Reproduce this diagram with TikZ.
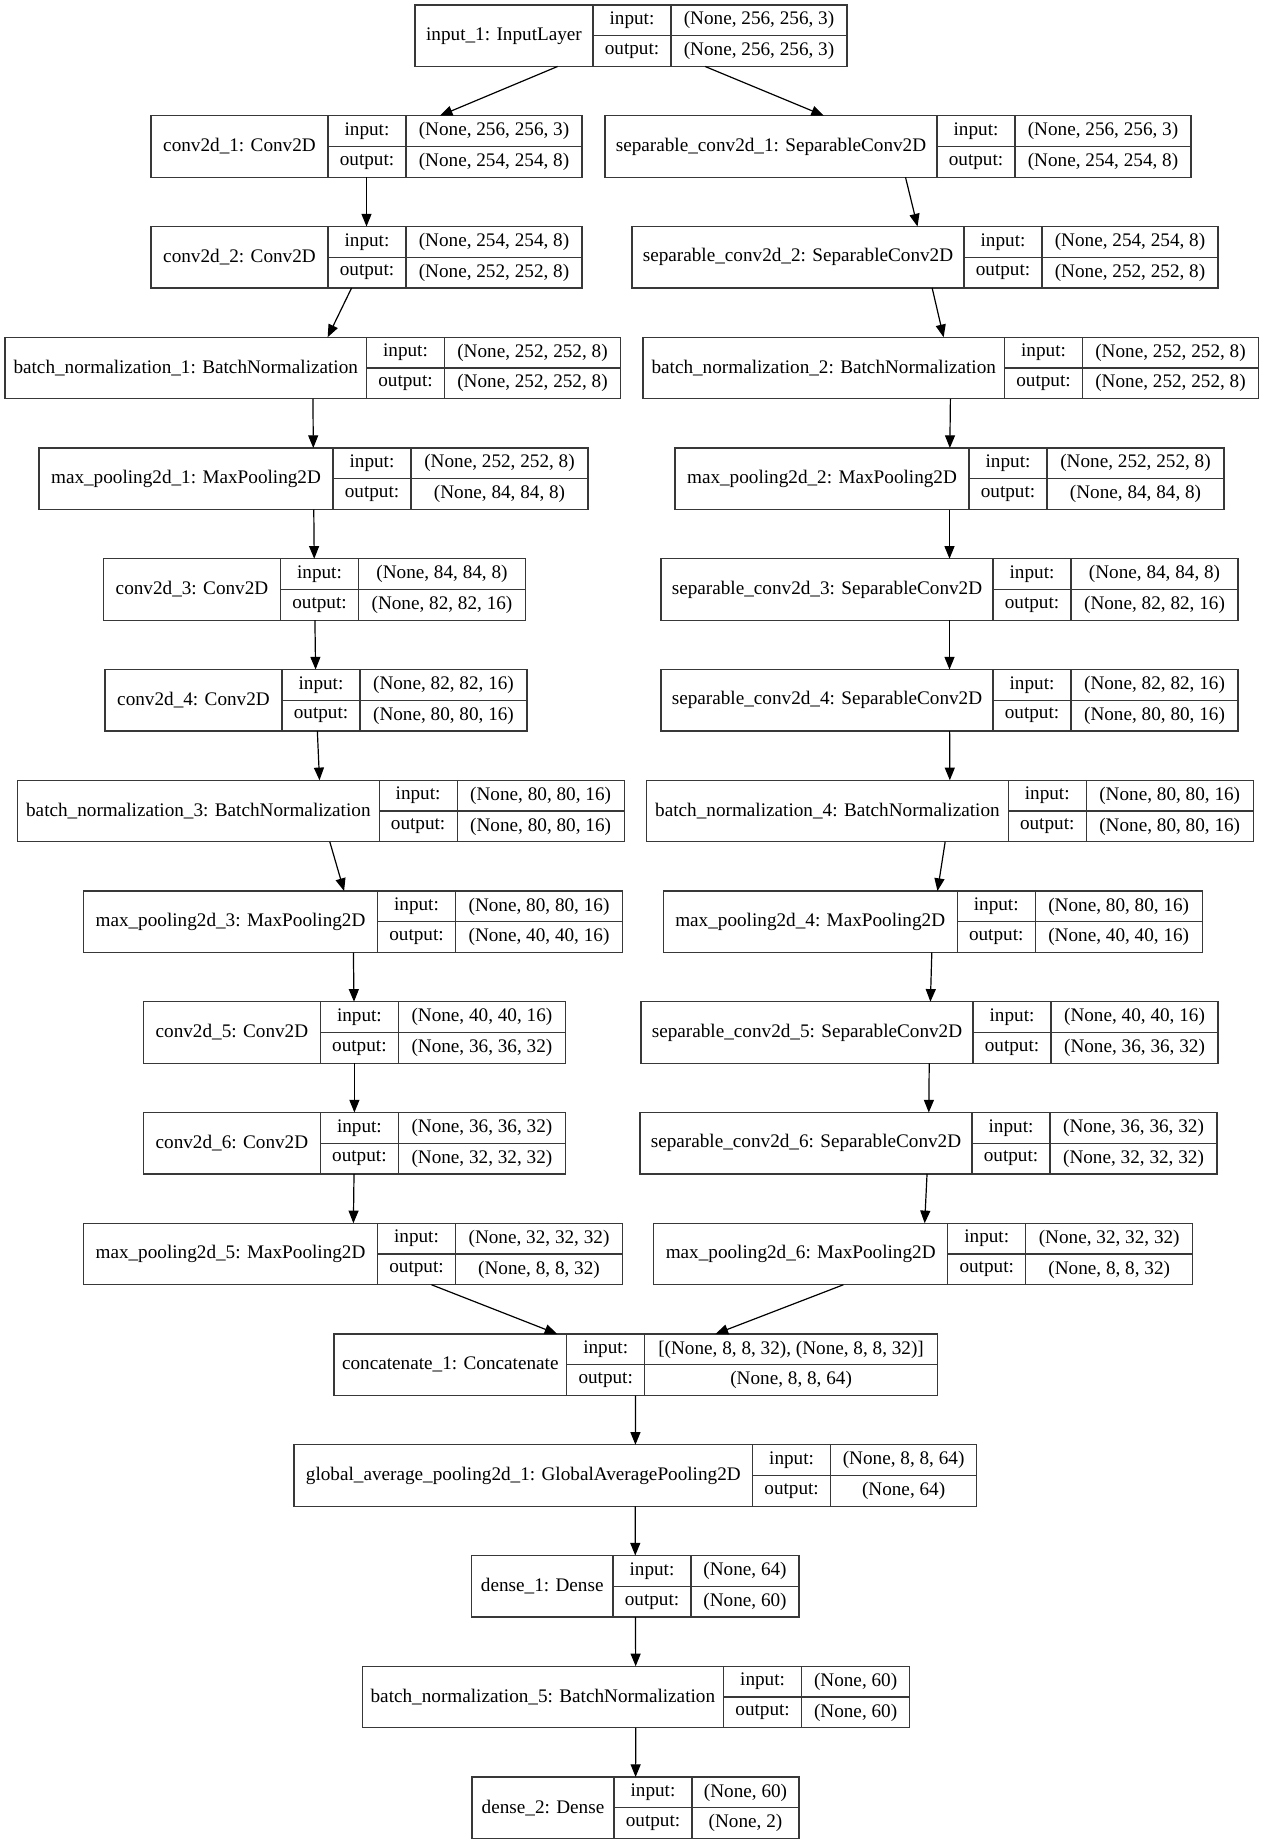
\documentclass[tikz,border=0pt]{standalone}
\usepackage{fontspec}
\setmainfont{Liberation Serif}
\usetikzlibrary{arrows.meta}
\definecolor{boxline}{gray}{0.22}
\tikzset{
  layerbox/.style={draw=boxline, line width=0.9pt, inner sep=0pt, outer sep=0pt, rectangle},
  cell/.style={inner sep=0pt, font=\fontsize{14.4pt}{17pt}\selectfont},
  divider/.style={draw=boxline, line width=0.9pt},
  edge/.style={draw=black, line width=0.9pt, -{Triangle[length=9.5pt,width=7.5pt]}},
}
% #1 name, #2 left, #3 label width, #4 value width, #5 row, #6 label, #7 input, #8 output
\newcommand{\klayer}[8]{%
  \pgfmathsetmacro{\kxa}{#2}%
  \pgfmathsetmacro{\kxb}{#2+#3}%
  \pgfmathsetmacro{\kxc}{#2+#3+78}%
  \pgfmathsetmacro{\kxd}{#2+#3+78+#4}%
  \pgfmathsetmacro{\kya}{5+110.75*#5}%
  \pgfmathsetmacro{\kyb}{\kya+30.75}%
  \pgfmathsetmacro{\kyc}{\kya+61.5}%
  \pgfmathsetmacro{\kW}{(#3+78+#4)*0.75}%
  \pgfmathsetmacro{\kH}{61.5*0.75}%
  \node[layerbox, minimum width=\kW pt, minimum height=\kH pt] (#1) at ({(\kxa+\kxd)/2},\kyb) {};
  \draw[divider] (\kxb,\kya) -- (\kxb,\kyc) (\kxc,\kya) -- (\kxc,\kyc) (\kxb,\kyb) -- (\kxd,\kyb);
  \node[cell] (#1-label) at ({(\kxa+\kxb)/2},\kyb) {#6};
  \node[cell] (#1-in) at ({(\kxb+\kxc)/2},{(\kya+\kyb)/2}) {input:};
  \node[cell] (#1-out) at ({(\kxb+\kxc)/2},{(\kyb+\kyc)/2}) {output:};
  \node[cell] (#1-inv) at ({(\kxc+\kxd)/2},{(\kya+\kyb)/2}) {#7};
  \node[cell] (#1-outv) at ({(\kxc+\kxd)/2},{(\kyb+\kyc)/2}) {#8};
}
\begin{document}
\begin{tikzpicture}[x=0.75pt,y=-0.75pt]
\fill[white] (0,0) rectangle (1264,1844);
\useasboundingbox (0,0) rectangle (1264,1844);

\klayer{in1}{415}{178}{176}{0}{input\_1: InputLayer}{(None, 256, 256, 3)}{(None, 256, 256, 3)}
\klayer{c1}{151}{177}{176}{1}{conv2d\_1: Conv2D}{(None, 256, 256, 3)}{(None, 254, 254, 8)}
\klayer{s1}{605}{332}{176}{1}{separable\_conv2d\_1: SeparableConv2D}{(None, 256, 256, 3)}{(None, 254, 254, 8)}
\klayer{c2}{151}{177}{176}{2}{conv2d\_2: Conv2D}{(None, 254, 254, 8)}{(None, 252, 252, 8)}
\klayer{s2}{632}{332}{176}{2}{separable\_conv2d\_2: SeparableConv2D}{(None, 254, 254, 8)}{(None, 252, 252, 8)}
\klayer{bn1}{5}{361.5}{176}{3}{batch\_normalization\_1: BatchNormalization}{(None, 252, 252, 8)}{(None, 252, 252, 8)}
\klayer{bn2}{643}{361.5}{176}{3}{batch\_normalization\_2: BatchNormalization}{(None, 252, 252, 8)}{(None, 252, 252, 8)}
\klayer{mp1}{39}{294}{177}{4}{max\_pooling2d\_1: MaxPooling2D}{(None, 252, 252, 8)}{(None, 84, 84, 8)}
\klayer{mp2}{675}{294}{177}{4}{max\_pooling2d\_2: MaxPooling2D}{(None, 252, 252, 8)}{(None, 84, 84, 8)}
\klayer{c3}{103.5}{177}{167}{5}{conv2d\_3: Conv2D}{(None, 84, 84, 8)}{(None, 82, 82, 16)}
\klayer{s3}{661}{332}{167}{5}{separable\_conv2d\_3: SeparableConv2D}{(None, 84, 84, 8)}{(None, 82, 82, 16)}
\klayer{c4}{105}{177}{167}{6}{conv2d\_4: Conv2D}{(None, 82, 82, 16)}{(None, 80, 80, 16)}
\klayer{s4}{661}{332}{167}{6}{separable\_conv2d\_4: SeparableConv2D}{(None, 82, 82, 16)}{(None, 80, 80, 16)}
\klayer{bn3}{17.6}{361.5}{167}{7}{batch\_normalization\_3: BatchNormalization}{(None, 80, 80, 16)}{(None, 80, 80, 16)}
\klayer{bn4}{646.7}{361.5}{167}{7}{batch\_normalization\_4: BatchNormalization}{(None, 80, 80, 16)}{(None, 80, 80, 16)}
\klayer{mp3}{83.5}{294}{167}{8}{max\_pooling2d\_3: MaxPooling2D}{(None, 80, 80, 16)}{(None, 40, 40, 16)}
\klayer{mp4}{663.2}{294}{167}{8}{max\_pooling2d\_4: MaxPooling2D}{(None, 80, 80, 16)}{(None, 40, 40, 16)}
\klayer{c5}{143.4}{177}{167}{9}{conv2d\_5: Conv2D}{(None, 40, 40, 16)}{(None, 36, 36, 32)}
\klayer{s5}{641}{332}{167}{9}{separable\_conv2d\_5: SeparableConv2D}{(None, 40, 40, 16)}{(None, 36, 36, 32)}
\klayer{c6}{143.4}{177}{167}{10}{conv2d\_6: Conv2D}{(None, 36, 36, 32)}{(None, 32, 32, 32)}
\klayer{s6}{640}{332}{167}{10}{separable\_conv2d\_6: SeparableConv2D}{(None, 36, 36, 32)}{(None, 32, 32, 32)}
\klayer{mp5}{83.5}{294}{167}{11}{max\_pooling2d\_5: MaxPooling2D}{(None, 32, 32, 32)}{(None, 8, 8, 32)}
\klayer{mp6}{653.7}{294}{167}{11}{max\_pooling2d\_6: MaxPooling2D}{(None, 32, 32, 32)}{(None, 8, 8, 32)}
\klayer{cat}{333.9}{232.8}{292.8}{12}{concatenate\_1: Concatenate}{[(None, 8, 8, 32), (None, 8, 8, 32)]}{(None, 8, 8, 64)}
\klayer{gap}{294}{458.6}{146}{13}{global\_average\_pooling2d\_1: GlobalAveragePooling2D}{(None, 8, 8, 64)}{(None, 64)}
\klayer{d1}{471.5}{141.5}{108}{14}{dense\_1: Dense}{(None, 64)}{(None, 60)}
\klayer{bn5}{362.1}{361.5}{108}{15}{batch\_normalization\_5: BatchNormalization}{(None, 60)}{(None, 60)}
\klayer{d2}{472}{142}{107}{16}{dense\_2: Dense}{(None, 60)}{(None, 2)}

\draw[edge] (in1) -- (c1);
\draw[edge] (in1) -- (s1);
\draw[edge] (c1) -- (c2);
\draw[edge] (c2) -- (bn1);
\draw[edge] (bn1) -- (mp1);
\draw[edge] (mp1) -- (c3);
\draw[edge] (c3) -- (c4);
\draw[edge] (c4) -- (bn3);
\draw[edge] (bn3) -- (mp3);
\draw[edge] (mp3) -- (c5);
\draw[edge] (c5) -- (c6);
\draw[edge] (c6) -- (mp5);
\draw[edge] (mp5) -- (cat);
\draw[edge] (s1) -- (s2);
\draw[edge] (s2) -- (bn2);
\draw[edge] (bn2) -- (mp2);
\draw[edge] (mp2) -- (s3);
\draw[edge] (s3) -- (s4);
\draw[edge] (s4) -- (bn4);
\draw[edge] (bn4) -- (mp4);
\draw[edge] (mp4) -- (s5);
\draw[edge] (s5) -- (s6);
\draw[edge] (s6) -- (mp6);
\draw[edge] (mp6) -- (cat);
\draw[edge] (cat) -- (gap);
\draw[edge] (gap) -- (d1);
\draw[edge] (d1) -- (bn5);
\draw[edge] (bn5) -- (d2);
\end{tikzpicture}
\end{document}
